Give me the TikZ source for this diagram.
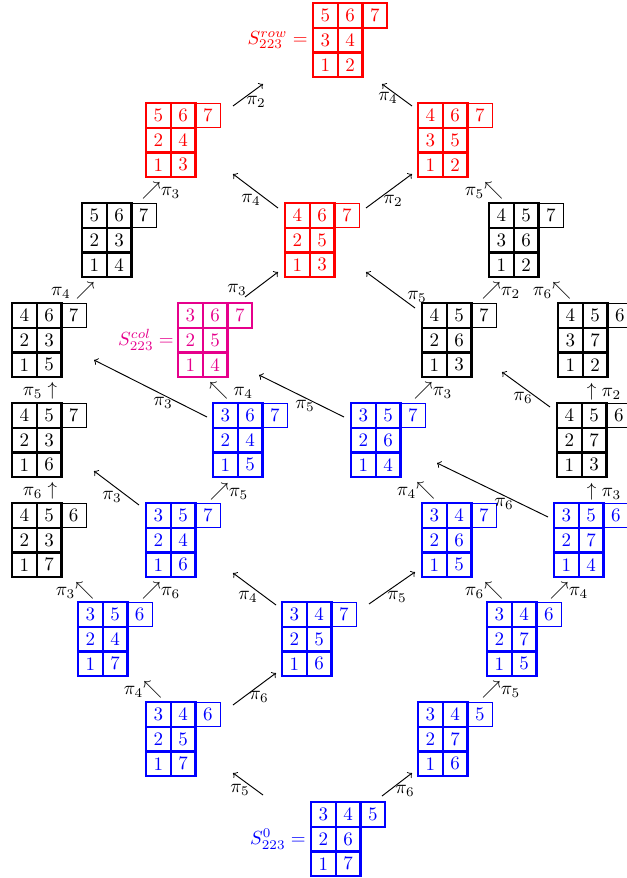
\documentclass[tikz,border=0pt]{standalone}
\definecolor{tred}{RGB}{255,0,0}
\definecolor{tblue}{RGB}{0,0,255}
\definecolor{tpink}{RGB}{230,0,140}
\tikzset{
  thickline/.style={line width=1.2pt},
  thinline/.style={line width=0.5pt},
  lastcell/.style={thinline},
  cell/.style={inner sep=0pt},
  lab/.style={inner sep=0pt},
  arr/.style={->, line width=0.5pt},
}
\newcommand\yt[9]{%
  \draw[#2, lastcell] (49.4,0) rectangle (74.1,24.7);
  \draw[#2, thickline] (0,0) rectangle (49.4,74.1)
     (24.7,0) -- (24.7,74.1) (0,24.7) -- (49.4,24.7) (0,49.4) -- (49.4,49.4);
  \node[cell, text=#2] (#1a) at (12.35,12.35) {#3};
  \node[cell, text=#2] (#1b) at (37.05,12.35) {#4};
  \node[cell, text=#2] (#1c) at (61.75,12.35) {#5};
  \node[cell, text=#2] (#1d) at (12.35,37.05) {#6};
  \node[cell, text=#2] (#1e) at (37.05,37.05) {#7};
  \node[cell, text=#2] (#1f) at (12.35,61.75) {#8};
  \node[cell, text=#2] (#1g) at (37.05,61.75) {#9};
}
\begin{document}
\begin{tikzpicture}[x=0.526pt, y=-0.526pt]
\useasboundingbox (0,0) rectangle (626,878);
% tableaux
\begin{scope}[shift={(313,3)}, lastcell/.style={thickline}] \yt{ta}{tred}{5}{6}{7}{3}{4}{1}{2} \end{scope}
\begin{scope}[shift={(146,103)}] \yt{tb}{tred}{5}{6}{7}{2}{4}{1}{3} \end{scope}
\begin{scope}[shift={(418,103)}] \yt{tc}{tred}{4}{6}{7}{3}{5}{1}{2} \end{scope}
\begin{scope}[shift={(285,203)}] \yt{td}{tred}{4}{6}{7}{2}{5}{1}{3} \end{scope}
\begin{scope}[shift={(82,203)}] \yt{te}{black}{5}{6}{7}{2}{3}{1}{4} \end{scope}
\begin{scope}[shift={(489,203)}] \yt{tf}{black}{4}{5}{7}{3}{6}{1}{2} \end{scope}
\begin{scope}[shift={(12,303)}] \yt{tg}{black}{4}{6}{7}{2}{3}{1}{5} \end{scope}
\begin{scope}[shift={(178,303)}, lastcell/.style={thickline}] \yt{th}{tpink}{3}{6}{7}{2}{5}{1}{4} \end{scope}
\begin{scope}[shift={(422,303)}] \yt{ti}{black}{4}{5}{7}{2}{6}{1}{3} \end{scope}
\begin{scope}[shift={(558,303)}] \yt{tj}{black}{4}{5}{6}{3}{7}{1}{2} \end{scope}
\begin{scope}[shift={(12,403)}] \yt{tk}{black}{4}{5}{7}{2}{3}{1}{6} \end{scope}
\begin{scope}[shift={(213,403)}] \yt{tl}{tblue}{3}{6}{7}{2}{4}{1}{5} \end{scope}
\begin{scope}[shift={(351,403)}] \yt{tm}{tblue}{3}{5}{7}{2}{6}{1}{4} \end{scope}
\begin{scope}[shift={(557,403)}] \yt{tn}{black}{4}{5}{6}{2}{7}{1}{3} \end{scope}
\begin{scope}[shift={(12,503)}] \yt{to}{black}{4}{5}{6}{2}{3}{1}{7} \end{scope}
\begin{scope}[shift={(146,503)}] \yt{tp}{tblue}{3}{5}{7}{2}{4}{1}{6} \end{scope}
\begin{scope}[shift={(422,503)}] \yt{tq}{tblue}{3}{4}{7}{2}{6}{1}{5} \end{scope}
\begin{scope}[shift={(554,503)}] \yt{tr}{tblue}{3}{5}{6}{2}{7}{1}{4} \end{scope}
\begin{scope}[shift={(78,602)}] \yt{ts}{tblue}{3}{5}{6}{2}{4}{1}{7} \end{scope}
\begin{scope}[shift={(282,602)}] \yt{tt}{tblue}{3}{4}{7}{2}{5}{1}{6} \end{scope}
\begin{scope}[shift={(487,602)}] \yt{tu}{tblue}{3}{4}{6}{2}{7}{1}{5} \end{scope}
\begin{scope}[shift={(146,702)}] \yt{tv}{tblue}{3}{4}{6}{2}{5}{1}{7} \end{scope}
\begin{scope}[shift={(418,702)}] \yt{tw}{tblue}{3}{4}{5}{2}{7}{1}{6} \end{scope}
\begin{scope}[shift={(311,802)}, lastcell/.style={thickline}] \yt{tx}{tblue}{3}{4}{5}{2}{6}{1}{7} \end{scope}
% names
\node[lab, anchor=east, text=tred] (nrow) at (308,40) {$S^{row}_{223} =$};
\node[lab, anchor=east, text=tpink] (ncol) at (174,340) {$S^{col}_{223} =$};
\node[lab, anchor=east, text=tblue] (nzero) at (306,839) {$S^{0}_{223} =$};
% drawn arrows
\coordinate (s1) at (263,795); \coordinate (e1) at (233,773);
\coordinate (s2) at (382,796); \coordinate (e2) at (412,773);
\coordinate (s3) at (233,705); \coordinate (e3) at (276,673);
\coordinate (s4) at (276,605); \coordinate (e4) at (233,573);
\coordinate (s5) at (369,604); \coordinate (e5) at (415,572);
\coordinate (s6) at (139,505); \coordinate (e6) at (94,471);
\coordinate (s7) at (207,417); \coordinate (e7) at (94,360);
\coordinate (s8) at (344,417); \coordinate (e8) at (259,375);
\coordinate (s9) at (548,517); \coordinate (e9) at (437,463);
\coordinate (s10) at (550,407); \coordinate (e10) at (502,372);
\coordinate (s11) at (245,297); \coordinate (e11) at (278,272);
\coordinate (s12) at (415,308); \coordinate (e12) at (366,272);
\coordinate (s13) at (278,208); \coordinate (e13) at (233,174);
\coordinate (s14) at (366,208); \coordinate (e14) at (412,174);
\coordinate (s15) at (233,106); \coordinate (e15) at (263,84);
\coordinate (s16) at (412,106); \coordinate (e16) at (382,84);
\foreach \i in {1,...,16} { \draw[arr] (s\i) -- (e\i); }
\node[lab] (p1) at (240,790) {$\pi_5$};
\node[lab] (p2) at (405,791) {$\pi_6$};
\node[lab] (p3) at (259,697) {$\pi_6$};
\node[lab] (p4) at (248,597) {$\pi_4$};
\node[lab] (p5) at (397,597) {$\pi_5$};
\node[lab] (p6) at (112,497) {$\pi_3$};
\node[lab] (p7) at (163,403) {$\pi_3$};
\node[lab] (p8) at (305,406) {$\pi_5$};
\node[lab] (p9) at (504,504) {$\pi_6$};
\node[lab] (p10) at (523,398) {$\pi_6$};
\node[lab] (p11) at (237,290) {$\pi_3$};
\node[lab] (p12) at (417,297) {$\pi_5$};
\node[lab] (p13) at (251,200) {$\pi_4$};
\node[lab] (p14) at (393,201) {$\pi_2$};
\node[lab] (p15) at (256,102) {$\pi_2$};
\node[lab] (p16) at (388,98) {$\pi_4$};
% text arrows
\node[lab] (q1) at (40,391) {$\pi_5\uparrow$};
\node[lab] (q2) at (40,491) {$\pi_6\uparrow$};
\node[lab] (q3) at (73,291) {$\pi_4\nearrow$};
\node[lab] (q4) at (231,391) {$\nwarrow\pi_4$};
\node[lab] (q5) at (604,392) {$\uparrow\pi_2$};
\node[lab] (q6) at (604,492) {$\uparrow\pi_3$};
\node[lab] (q7) at (161,191) {$\mathord{\nearrow}\pi_3$};
\node[lab] (q8) at (484,191) {$\pi_5\mathord{\nwarrow}$};
\node[lab] (q9) at (501,291) {$\mathord{\nearrow}\pi_2$};
\node[lab] (q10) at (552,291) {$\pi_6\mathord{\nwarrow}$};
\node[lab] (q11) at (433,391) {$\mathord{\nearrow}\pi_3$};
\node[lab] (q12) at (416,491) {$\pi_4\mathord{\nwarrow}$};
\node[lab] (q13) at (229,492) {$\mathord{\nearrow}\pi_5$};
\node[lab] (q14) at (75,591) {$\pi_3\mathord{\nwarrow}$};
\node[lab] (q15) at (161,591) {$\mathord{\nearrow}\pi_6$};
\node[lab] (q16) at (484,591) {$\pi_6\mathord{\nwarrow}$};
\node[lab] (q17) at (569,591) {$\mathord{\nearrow}\pi_4$};
\node[lab] (q18) at (143,690) {$\pi_4\mathord{\nwarrow}$};
\node[lab] (q19) at (501,690) {$\mathord{\nearrow}\pi_5$};
\end{tikzpicture}
\end{document}
